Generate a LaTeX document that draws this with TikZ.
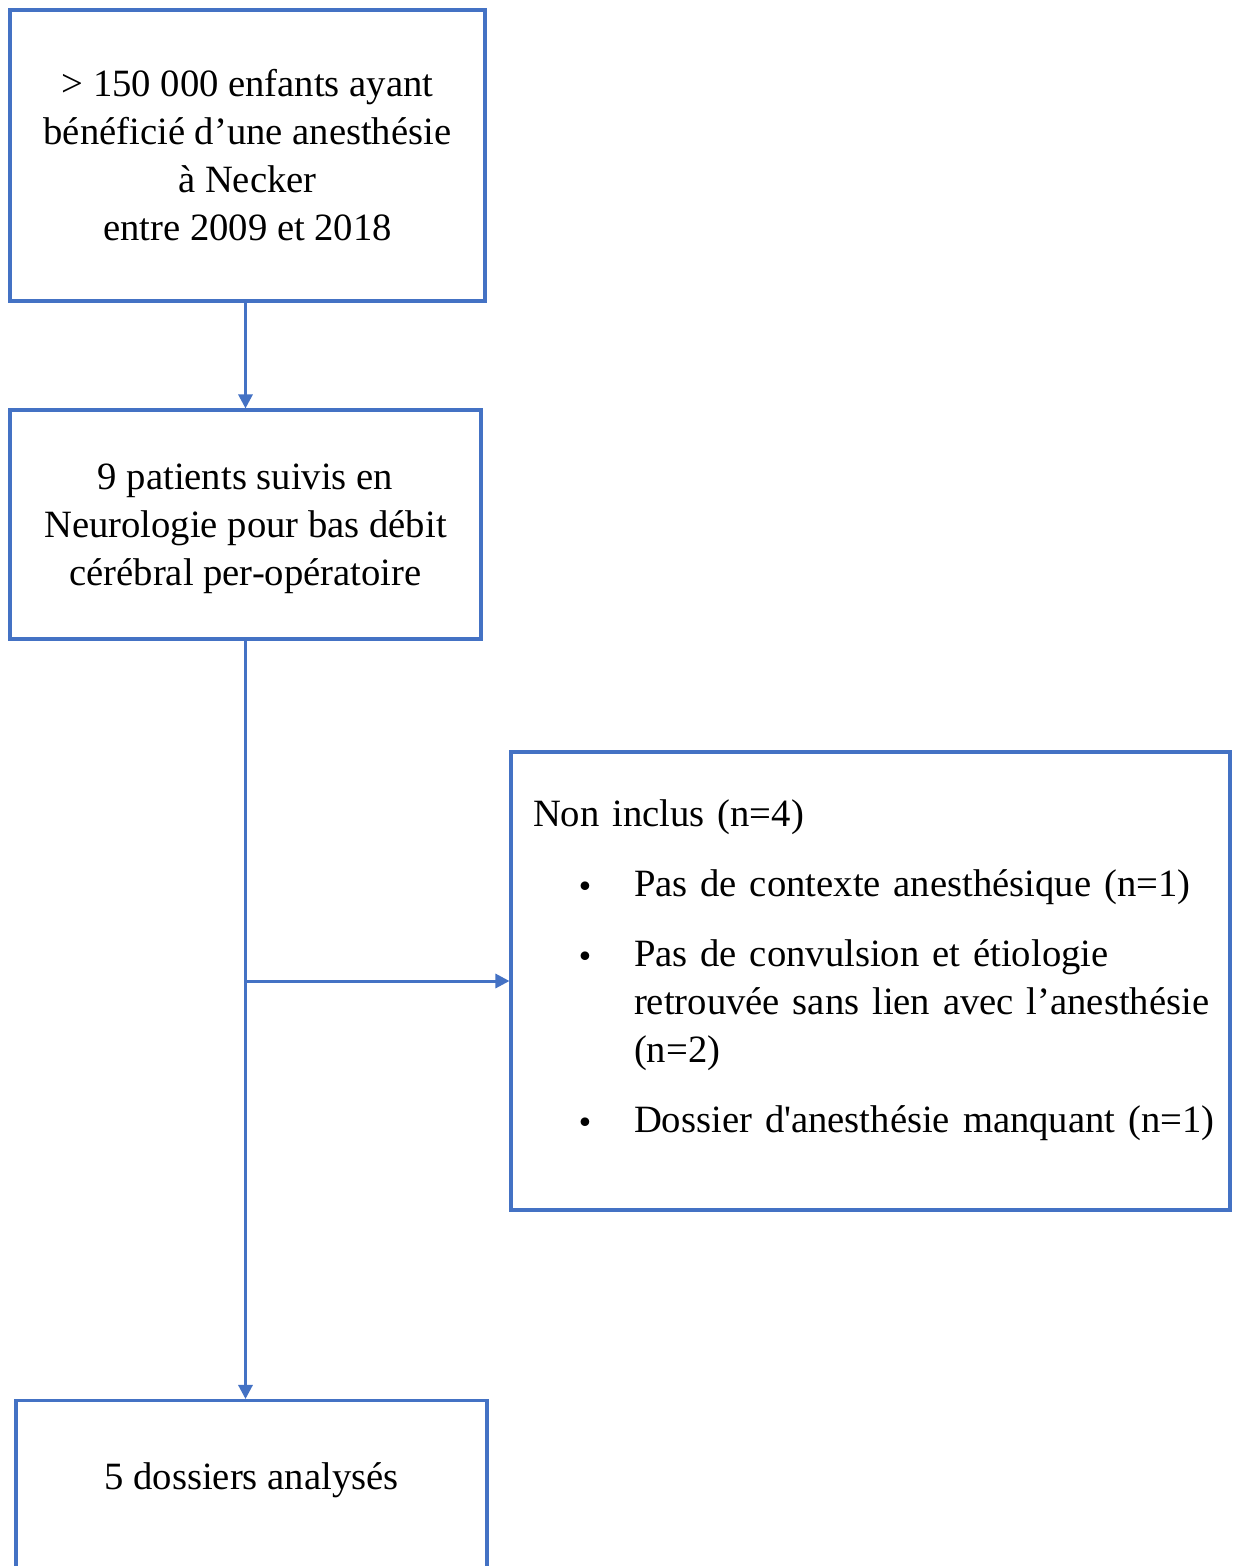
\documentclass[tikz,border=0pt]{standalone}
\usepackage{fontspec}
\newfontfamily\flowfont{Liberation Serif}
\usepackage{enumitem}
\usepackage{tikz}
\usetikzlibrary{arrows.meta,positioning,calc}
\definecolor{flowblue}{HTML}{4472C4}

\begin{document}
\begin{tikzpicture}[
    x=0.02cm, y=-0.02cm,
    >={Triangle[length=8pt,width=8pt]},
    box/.style={rectangle,draw=flowblue,line width=1.8pt,align=center,inner sep=0pt,
                font=\flowfont\fontsize{22}{27.3}\selectfont},
    flow/.style={->,draw=flowblue,color=flowblue,line width=1.7pt}]
  \useasboundingbox (0,0) rectangle (1232,1566);
  \clip (0,0) rectangle (1232,1566);
  % ---- main column ----
  \node[box,minimum width=9.5cm,minimum height=5.82cm] (cohorte) at (247.5,155.5)
    {> 150 000 enfants ayant\\bénéficié d’une anesthésie\\à Necker\\entre 2009 et 2018};
  \node[box,minimum width=9.42cm,minimum height=4.58cm,text depth=0cm] (suivis) at (245.5,524.5)
    {9 patients suivis en\\Neurologie pour bas débit\\cérébral per-opératoire};
  \node[box,minimum width=9.42cm,text height=1.78cm,text depth=5cm,anchor=north] (analyses) at (251.5,1399)
    {5 dossiers analysés};            % bottom edge runs off the page
  % ---- exclusions on the right ----
  \node[box,align=left,text width=13.5cm,inner xsep=0.44cm,minimum width=14.38cm,minimum height=9.16cm] (exclus) at (870.5,981)
    {Non inclus (n=4)
     \begin{itemize}[leftmargin=2.02cm,rightmargin=-0.4cm,labelsep=0.7cm,itemsep=12.5pt,parsep=0pt,topsep=12.5pt,partopsep=0pt]
       \item Pas de contexte anesthésique (n=1)
       \item Pas de convulsion et étiologie\newline
             retrouvée sans lien avec l’anesthésie\newline
             (n=2)
       \item Dossier d'anesthésie manquant (n=1)
     \end{itemize}
     \vspace{0.28cm}};
  % ---- connectors ----
  \coordinate (split) at (suivis.south |- exclus.west);
  \draw[flow] (cohorte.south -| suivis.north) -- (suivis.north);
  \draw[flow] (suivis.south) -- (suivis.south |- analyses.north);
  \draw[flow] (split) -- (exclus.west);
\end{tikzpicture}
\end{document}
